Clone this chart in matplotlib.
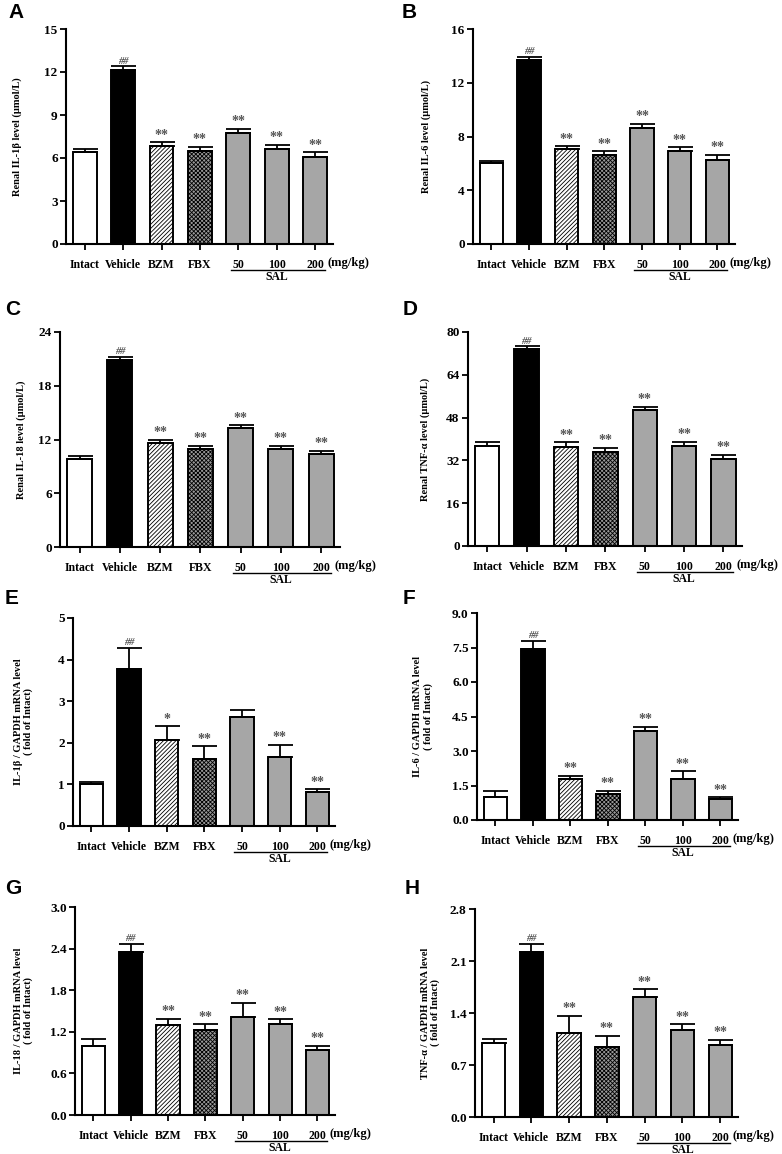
import matplotlib
matplotlib.use("Agg")
import matplotlib.pyplot as plt
import matplotlib.transforms as mtransforms

groups = ["Intact", "Vehicle", "BZM", "FBX", "50", "100", "200"]

a_mean = [6.4, 12.15, 6.85, 6.5, 7.75, 6.65, 6.1]
a_err = [0.25, 0.25, 0.25, 0.3, 0.3, 0.28, 0.3]
b_mean = [6.0, 13.7, 7.07, 6.65, 8.63, 6.9, 6.28]
b_err = [0.2, 0.25, 0.2, 0.25, 0.33, 0.3, 0.37]
c_mean = [9.85, 20.85, 11.64, 10.97, 13.27, 10.97, 10.4]
c_err = [0.3, 0.38, 0.3, 0.33, 0.33, 0.3, 0.34]
d_mean = [37.3, 73.5, 37.1, 35.3, 50.7, 37.3, 32.7]
d_err = [1.6, 1.2, 1.6, 1.3, 1.3, 1.6, 1.3]
e_mean = [1.0, 3.77, 2.06, 1.6, 2.62, 1.65, 0.81]
e_err = [0.06, 0.51, 0.34, 0.32, 0.18, 0.3, 0.07]
f_mean = [1.0, 7.43, 1.77, 1.13, 3.85, 1.8, 0.92]
f_err = [0.25, 0.37, 0.16, 0.15, 0.21, 0.32, 0.07]
g_mean = [1.0, 2.35, 1.3, 1.22, 1.41, 1.31, 0.94]
g_err = [0.09, 0.12, 0.09, 0.09, 0.21, 0.07, 0.06]
h_mean = [1.0, 2.22, 1.13, 0.94, 1.61, 1.17, 0.97]
h_err = [0.05, 0.11, 0.23, 0.15, 0.11, 0.08, 0.07]

sig_std = ["", "##", "**", "**", "**", "**", "**"]
sig_e = ["", "##", "*", "**", "", "**", "**"]

a_ticks = [0, 3, 6, 9, 12, 15]
b_ticks = [0, 4, 8, 12, 16]
c_ticks = [0, 6, 12, 18, 24]
d_ticks = [0, 16, 32, 48, 64, 80]
e_ticks = [0, 1, 2, 3, 4, 5]
f_ticks = [0.0, 1.5, 3.0, 4.5, 6.0, 7.5, 9.0]
g_ticks = [0.0, 0.6, 1.2, 1.8, 2.4, 3.0]
h_ticks = [0.0, 0.7, 1.4, 2.1, 2.8]

ylabels = [
    "Renal IL-1β level (μmol/L)",
    "Renal IL-6 level (μmol/L)",
    "Renal IL-18 level (μmol/L)",
    "Renal TNF-α level (μmol/L)",
    "IL-1β / GAPDH mRNA level\n( fold of Intact)",
    "IL-6 / GAPDH mRNA level\n( fold of Intact)",
    "IL-18 / GAPDH mRNA level\n( fold of Intact)",
    "TNF-α / GAPDH mRNA level\n( fold of Intact)",
]
letters = ["A", "B", "C", "D", "E", "F", "G", "H"]

plt.rcParams["hatch.linewidth"] = 0.6
SERIF = ["Liberation Serif", "DejaVu Serif"]

W, H = 782, 1154
fig = plt.figure(figsize=(W / 100, H / 100), dpi=100)

# (left, right, top, bottom) in pixels
boxes = [
    (66, 333, 29, 244), (473, 735, 29, 244),
    (60, 340, 332, 547), (468, 742, 332, 546),
    (73, 335, 618, 826), (477, 738, 613, 820),
    (75, 335, 907, 1115), (475, 738, 909, 1117),
]
labelpads = [16, 15, 9, 12, 18, 14, 12, 7]
letter_pos = [(8, 3), (402, 3), (5, 300), (403, 300), (5, 589), (403, 589), (5, 879), (405, 879)]
ytick_fmt = ["{:.0f}", "{:.0f}", "{:.0f}", "{:.0f}", "{:.0f}", "{:.1f}", "{:.1f}", "{:.1f}"]

panels = [
    (a_mean, a_err, a_ticks, sig_std),
    (b_mean, b_err, b_ticks, sig_std),
    (c_mean, c_err, c_ticks, sig_std),
    (d_mean, d_err, d_ticks, sig_std),
    (e_mean, e_err, e_ticks, sig_e),
    (f_mean, f_err, f_ticks, sig_std),
    (g_mean, g_err, g_ticks, sig_std),
    (h_mean, h_err, h_ticks, sig_std),
]

faces = ["white", "black", "white", "#9a9a9a", "#a6a6a6", "#a6a6a6", "#a6a6a6"]
hatches = [None, None, "////////", "xxxxxxxx", None, None, None]

for i, (mean, err, ticks, sig) in enumerate(panels):
    l, r, t, b = boxes[i]
    ax = fig.add_axes([l / W, 1 - b / H, (r - l) / W, (b - t) / H])
    x = list(range(len(groups)))
    bars = ax.bar(x, mean, width=0.62, color=faces, edgecolor="black", linewidth=1.4, zorder=2)
    for bar, h in zip(bars, hatches):
        if h:
            bar.set_hatch(h)
    ax.errorbar(x, mean, yerr=[[0] * len(err), err], fmt="none", ecolor="black",
                elinewidth=1.3, capsize=9, capthick=1.3, zorder=3)
    ymax = ticks[-1]
    for xi, m, e, s in zip(x, mean, err, sig):
        if s:
            style = "italic" if s.startswith("#") else "normal"
            ax.text(xi, m + e + ymax * 0.003, s, ha="center", va="bottom",
                    fontsize=10 if s.startswith("*") else 7.5, color="#555555",
                    fontweight="bold", fontstyle=style, family=SERIF)
    ax.set_xlim(-0.49, 6.47)
    ax.set_ylim(0, ymax)
    ax.set_yticks(ticks)
    ax.set_yticklabels([ytick_fmt[i].format(v) for v in ticks], family=SERIF,
                       fontweight="bold", fontsize=9.5)
    ax.set_xticks(x)
    ax.set_xticklabels(groups, family=SERIF, fontweight="bold", fontsize=8.5)
    ax.tick_params(axis="both", direction="out", length=4, width=1.3, pad=2)
    ax.tick_params(axis="x", pad=7)
    for sp in ["top", "right"]:
        ax.spines[sp].set_visible(False)
    for sp in ["left", "bottom"]:
        ax.spines[sp].set_linewidth(1.5)
    ax.set_ylabel(ylabels[i], family=SERIF, fontweight="bold", fontsize=7.5,
                  labelpad=labelpads[i], linespacing=1.1)
    trans = mtransforms.blended_transform_factory(ax.transData, ax.transAxes)
    off = 26 / (b - t)
    ax.plot([3.8, 6.25], [-off, -off], color="black", lw=1.0,
            transform=trans, clip_on=False)
    ax.text(5.0, -off - 0.005, "SAL", transform=trans, ha="center", va="top",
            family=SERIF, fontweight="bold", fontsize=8.5)
    ax.text(6.33, -19 / (b - t), "(mg/kg)", transform=trans, ha="left", va="center",
            family=SERIF, fontweight="bold", fontsize=9)
    lx, ly = letter_pos[i]
    fig.text(lx / W, 1 - ly / H, letters[i], ha="left", va="top", fontsize=15,
             fontweight="bold", family=["Liberation Sans", "DejaVu Sans"])

fig.savefig("out.png", dpi=100, facecolor="white")
